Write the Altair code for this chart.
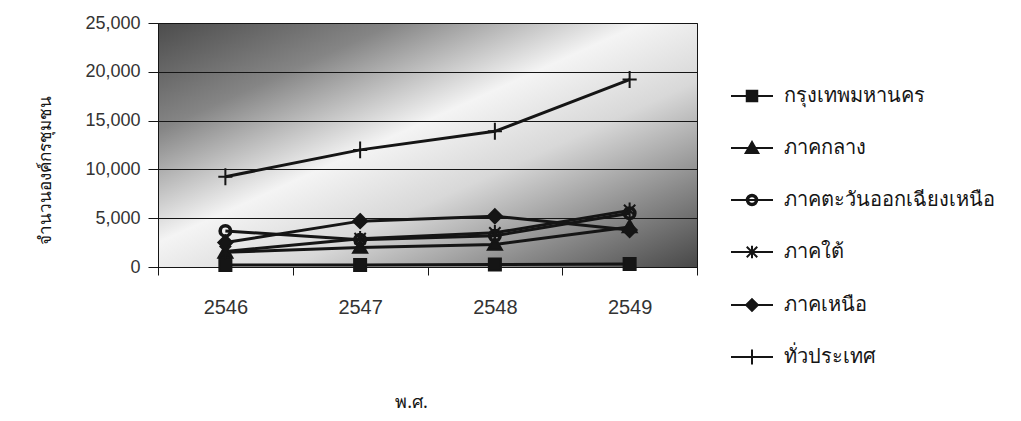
import altair as alt
import pandas as pd

years = ["2546", "2547", "2548", "2549"]
series_names = ["กรุงเทพมหานคร", "ภาคกลาง", "ภาคตะวันออกเฉียงเหนือ", "ภาคใต้", "ภาคเหนือ", "ทั่วประเทศ"]
bangkok = [200, 200, 250, 300]
central = [1500, 2000, 2300, 4100]
northeast = [3700, 2800, 3200, 5500]
south = [1600, 2900, 3500, 5800]
north = [2500, 4700, 5200, 3800]
total = [9250, 12000, 13900, 19200]
y_ticks = [0, 5000, 10000, 15000, 20000, 25000]

rows = []
for name, vals in zip(series_names, [bangkok, central, northeast, south, north, total]):
    for yr, v in zip(years, vals):
        rows.append({"year": yr, "region": name, "value": v})
df = pd.DataFrame(rows)

INK = "#151515"
TXT = "#333333"

# circle drawn as a ring (outer and inner arcs wound opposite ways) so it stays open when filled
plot_shapes = [
    "M-0.85,-0.85H0.85V0.85H-0.85Z",
    "M0,-1L1,0.75H-1Z",
    "M-0.85,0A0.85,0.85 0 1,1 0.85,0A0.85,0.85 0 1,1 -0.85,0Z"
    "M-0.62,0A0.62,0.62 0 1,0 0.62,0A0.62,0.62 0 1,0 -0.62,0Z",
    "M-0.8,-0.8L0.8,0.8M-0.8,0.8L0.8,-0.8M0,-1.1V1.1",
    "M0,-1L1,0L0,1L-1,0Z",
    "M-1,0H1M0,-1.2V1.2",
]
legend_shapes = [
    "M-1,0H1M-0.25,-0.25H0.25V0.25H-0.25Z",
    "M-1,0H1M0,-0.28L0.3,0.24H-0.3Z",
    "M-1,0H1M-0.25,0A0.25,0.25 0 1,1 0.25,0A0.25,0.25 0 1,1 -0.25,0Z"
    "M-0.18,0A0.18,0.18 0 1,0 0.18,0A0.18,0.18 0 1,0 -0.18,0Z",
    "M-1,0H1M-0.25,-0.25L0.25,0.25M-0.25,0.25L0.25,-0.25M0,-0.3V0.3",
    "M-1,0H1M0,-0.28L0.28,0L0,0.28L-0.28,0Z",
    "M-1,0H1M0,-0.36V0.36",
]

x_enc = alt.X(
    "year:N",
    scale=alt.Scale(type="band", domain=years, paddingInner=0, paddingOuter=0),
    axis=alt.Axis(
        title="พ.ศ.", labelAngle=0, tickBand="extent", tickSize=8, labelPadding=22,
        domainColor=INK, tickColor=INK, labelColor=TXT, labelFont="Liberation Sans",
        labelFontSize=20, titleFont="Noto Sans", titleFontSize=18, titleColor=INK,
        titleFontWeight="normal", titleX=253, titleY=126, titleBaseline="top", grid=False,
    ),
)
y_enc = alt.Y(
    "value:Q",
    scale=alt.Scale(domain=[0, 25000]),
    axis=alt.Axis(
        values=y_ticks, labelExpr="format(datum.value, ',.0f')", tickSize=10, labelPadding=8,
        grid=True, gridColor=INK, gridWidth=1, domainColor=INK, tickColor=INK, labelColor=TXT,
        labelFont="Liberation Sans", labelFontSize=18, title="จำนวนองค์กรชุมชน",
        titleFont="Noto Sans", titleFontSize=17, titleFontWeight="normal", titleColor=INK,
        titleAngle=-90, titleX=-113, titleY=147, titleAlign="center", titleBaseline="middle",
        zindex=1,
    ),
)

bg = alt.Chart(alt.Data(values=[{"k": 1}])).mark_rect(
    color=alt.Gradient(
        gradient="linear", x1=0, y1=0, x2=1, y2=1,
        stops=[
            alt.GradientStop(offset=0.0, color="#4c4c4c"),
            alt.GradientStop(offset=0.22, color="#858585"),
            alt.GradientStop(offset=0.45, color="#f4f4f4"),
            alt.GradientStop(offset=0.62, color="#d8d8d8"),
            alt.GradientStop(offset=0.82, color="#8a8a8a"),
            alt.GradientStop(offset=1.0, color="#484848"),
        ],
    )
).encode(x=alt.value(0), x2=alt.value("width"), y=alt.value(0), y2=alt.value("height"))

base = alt.Chart(df)

lines = base.mark_line(color=INK, strokeWidth=3).encode(x=x_enc, y=y_enc, detail="region:N")

point_layers = [
    base.transform_filter(alt.datum.region == name).mark_point(
        shape=shp, filled=True, fill=INK, stroke=INK, strokeWidth=2, size=200, opacity=1
    ).encode(x=x_enc, y=y_enc)
    for name, shp in zip(series_names, plot_shapes)
]

leg = dict(
    title=None, orient="none", legendX=572, legendY=51, symbolSize=1764,
    symbolStrokeWidth=2, symbolOpacity=1,
    labelFont="Noto Sans", labelFontSize=20, labelColor=INK, labelOffset=10,
    rowPadding=20, padding=0, labelLimit=400,
)
legend_layer = base.transform_filter("false").mark_point(
    filled=True, fill=INK, strokeWidth=2, opacity=1
).encode(
    x=x_enc, y=y_enc,
    shape=alt.Shape("region:N", scale=alt.Scale(domain=series_names, range=legend_shapes),
                    legend=alt.Legend(**leg)),
    stroke=alt.Stroke("region:N", scale=alt.Scale(domain=series_names, range=[INK] * 6),
                      legend=alt.Legend(**leg)),
)

chart = alt.layer(bg, lines, *point_layers, legend_layer).properties(
    width=539, height=244,
    padding={"left": 150, "top": 15, "right": 310, "bottom": 145},
    autosize="none",
    background="white",
).configure_view(stroke=INK, strokeWidth=1)

chart.save("out.html", embed_options={"renderer": "svg", "actions": False})
